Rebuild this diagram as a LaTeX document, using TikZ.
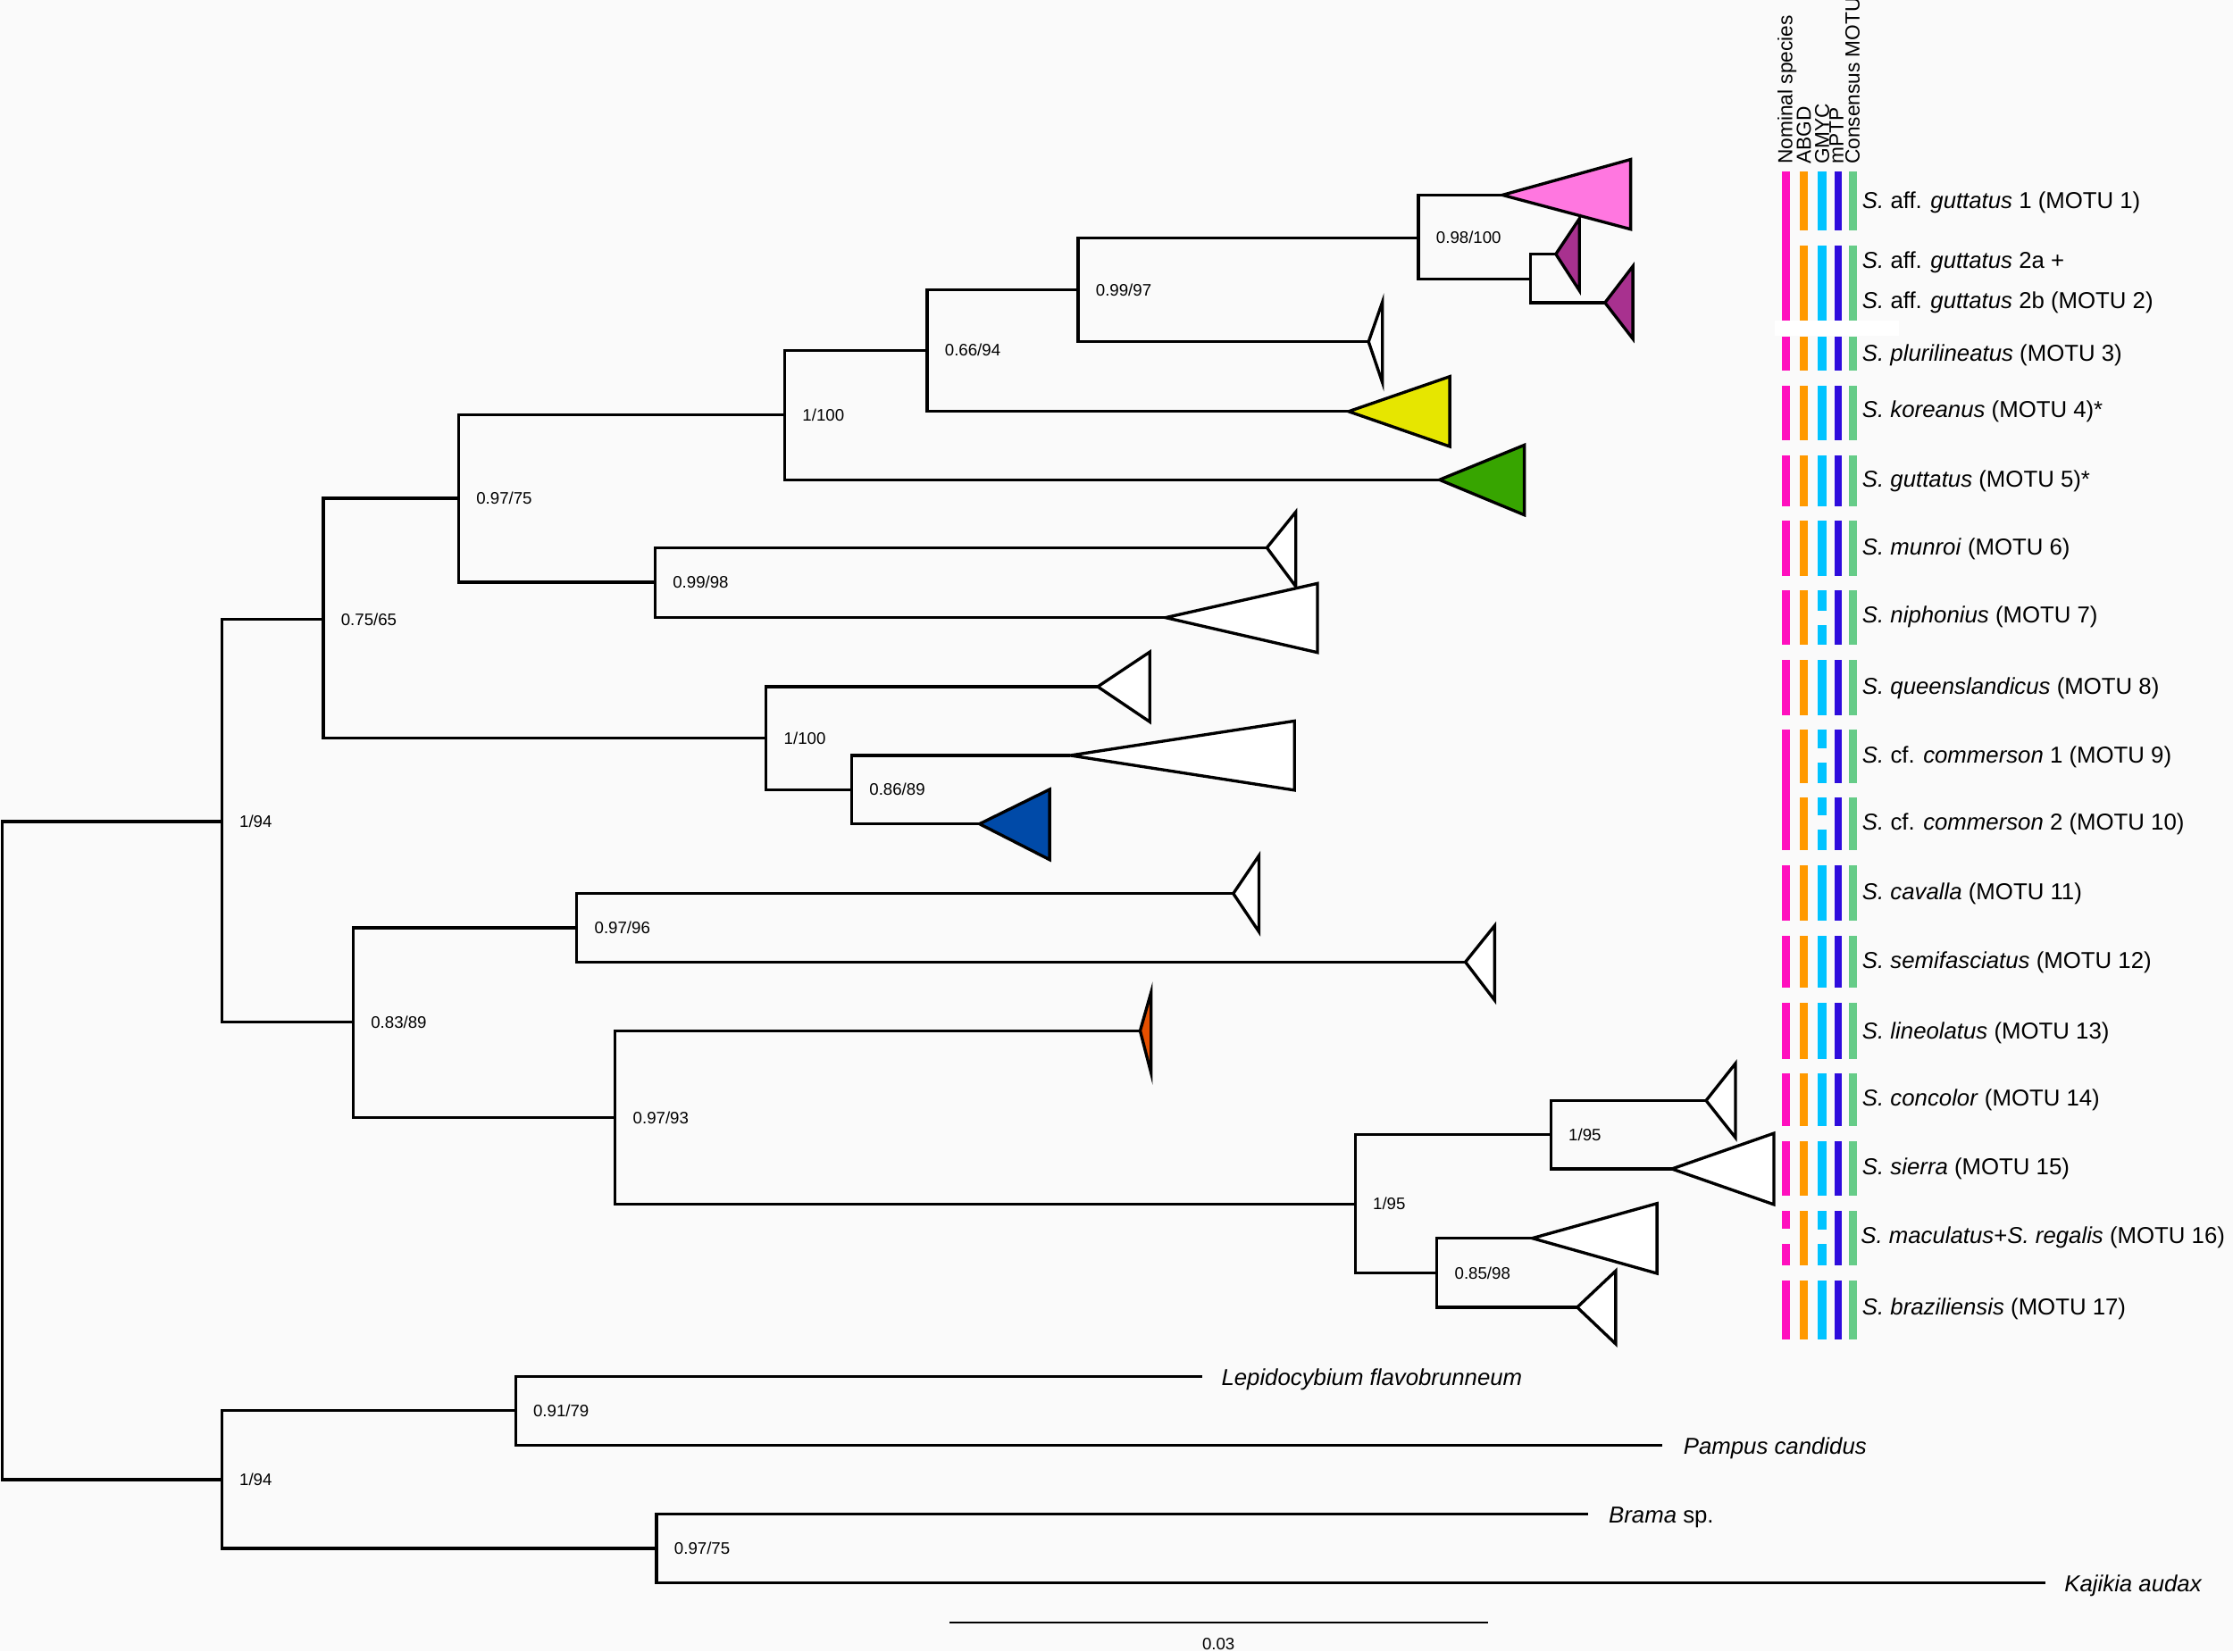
\documentclass[tikz,border=0pt]{standalone}
\usepackage{fontspec}
\setmainfont{Liberation Sans}
\definecolor{bgc}{RGB}{250,250,250}
\definecolor{cpinkbar}{RGB}{255,16,190}
\definecolor{corange}{RGB}{255,153,0}
\definecolor{ccyan}{RGB}{0,195,255}
\definecolor{cblue}{RGB}{46,12,220}
\definecolor{cgreenbar}{RGB}{102,204,136}
\definecolor{tpink}{RGB}{255,119,224}
\definecolor{tpurple}{RGB}{168,49,143}
\definecolor{tyellow}{RGB}{230,230,0}
\definecolor{tgreen}{RGB}{55,165,0}
\definecolor{tblue}{RGB}{0,74,168}
\definecolor{torange}{RGB}{230,80,0}
\newcommand\barsorange[2]{\fill[corange] (1264,#1) rectangle (1269.6,#2);}
\newcommand\barscyan[2]{\fill[ccyan] (1276.4,#1) rectangle (1282.4,#2);}
\newcommand\barsblue[2]{\fill[cblue] (1288,#1) rectangle (1293.5,#2);}
\newcommand\barsgreen[2]{\fill[cgreenbar] (1298.6,#1) rectangle (1304,#2);}
\newcommand\barspink[2]{\fill[cpinkbar] (1251.4,#1) rectangle (1257,#2);}
\begin{document}
\begin{tikzpicture}[x=0.1mm,y=-0.1mm,
  br/.style={line width=0.58pt, line join=miter},
  tri/.style={line width=0.6pt, line join=miter},
  nl/.style={inner sep=0pt, anchor=base west, font=\fontsize{3.33}{4}\selectfont},
  lab/.style={inner sep=0pt, anchor=base west, font=\fontsize{4.6}{5.5}\selectfont},
  hdr/.style={inner sep=0pt, anchor=base west, rotate=90, font=\fontsize{4.05}{4.8}\selectfont}]
\useasboundingbox (0,0) rectangle (1568,1160);
\fill[bgc] (0,0) rectangle (1568,1160);

% internal nodes
\coordinate (root) at (1.7,808.5);
\coordinate (A) at (155.7,577);
\coordinate (O) at (155.7,1039.3);
\coordinate (B) at (227,435);
\coordinate (C) at (322,350);
\coordinate (D) at (551,291.5);
\coordinate (E) at (651,246);
\coordinate (F) at (757,203.5);
\coordinate (F2) at (996,167);
\coordinate (F3) at (1074.5,196);
\coordinate (G) at (460,409);
\coordinate (H) at (538,518.4);
\coordinate (H2) at (598,554.6);
\coordinate (K) at (248,718);
\coordinate (K1) at (405,651.7);
\coordinate (K2) at (432,785);
\coordinate (K3) at (951.6,845.6);
\coordinate (K4) at (1089,797);
\coordinate (K5) at (1009,894);
\coordinate (O1) at (362,990.8);
\coordinate (O2) at (461,1087.6);
% tips (clade apices)
\coordinate (t1) at (1055,137);
\coordinate (t2) at (1092.5,178.5);
\coordinate (t3) at (1127,212.6);
\coordinate (t4) at (961,240);
\coordinate (t5) at (947,289);
\coordinate (t6) at (1010.8,337);
\coordinate (t7) at (889.6,384.7);
\coordinate (t8) at (818.5,433.8);
\coordinate (t9) at (770.8,482.3);
\coordinate (t10) at (751.6,530.6);
\coordinate (t11) at (687.8,578.7);
\coordinate (t12) at (866,627.6);
\coordinate (t13) at (1029,675.7);
\coordinate (t14) at (800.6,724);
\coordinate (t15) at (1198,773);
\coordinate (t16) at (1174,821);
\coordinate (t17) at (1076,869.7);
\coordinate (t18) at (1107.5,918.2);
\coordinate (o1) at (844,966.6);
\coordinate (o2) at (1167.5,1015);
\coordinate (o3) at (1115,1063.5);
\coordinate (o4) at (1436,1111.8);

% branches
\foreach \p/\c in {root/A,root/O,A/B,A/K,B/C,B/H,C/D,C/G,D/E,D/t6,E/F,E/t5,F/F2,F/t4,
  F2/t1,F2/F3,F3/t2,F3/t3,G/t7,G/t8,H/t9,H/H2,H2/t10,H2/t11,K/K1,K/K2,K1/t12,K1/t13,
  K2/t14,K2/K3,K3/K4,K3/K5,K4/t15,K4/t16,K5/t17,K5/t18,O/O1,O/O2,O1/o1,O1/o2,O2/o3,O2/o4}
  \draw[br] (\p) |- (\c);

% collapsed clades
\foreach \t/\bx/\yt/\yb/\col in {t1/1145/112/161/tpink, t2/1109/153.7/204/tpurple,
  t3/1146.6/187/238/tpurple, t4/970.7/212.2/268.6/white, t5/1018/264.5/313.6/tyellow,
  t6/1070.4/312.6/361.7/tgreen, t7/909.9/359.6/411.9/white, t8/925.1/409.8/458.3/white,
  t9/807.4/457.9/507/white, t10/909/506.4/555/white, t11/737/554.5/603.8/tblue,
  t12/884/601/654.4/white, t13/1049.5/650.2/702.5/white, t14/808.3/697/753.7/torange,
  t15/1218.6/747/799/white, t16/1245.6/796/846/white, t17/1163.5/845.3/894.4/white,
  t18/1134.5/892.7/943.9/white}
  \draw[tri, fill=\col] (\t) -- (\bx,\yt) -- (\bx,\yb) -- cycle;

% support values
\foreach \n/\s in {A/1\slash 94, B/0.75\slash 65, C/0.97\slash 75, D/1\slash 100,
  E/0.66\slash 94, F/0.99\slash 97, F2/0.98\slash 100, G/0.99\slash 98, H/1\slash 100,
  H2/0.86\slash 89, K/0.83\slash 89, K1/0.97\slash 96, K2/0.97\slash 93, K3/1\slash 95,
  K4/1\slash 95, K5/0.85\slash 98, O/1\slash 94, O1/0.91\slash 79, O2/0.97\slash 75}
  \node[nl] (l\n) at ([shift={(11.8,4.2)}]\n) {\s};

% outgroup labels
\node[lab] (lo1) at ([shift={(13,6.2)}]o1) {\textit{Lepidocybium flavobrunneum}};
\node[lab] (lo2) at ([shift={(14,6.2)}]o2) {\textit{Pampus candidus}};
\node[lab] (lo3) at ([shift={(14,6.2)}]o3) {\textit{Brama} sp.};
\node[lab] (lo4) at ([shift={(13,6.2)}]o4) {\textit{Kajikia audax}};

% scale bar
\coordinate (sb1) at (667,1139.6);
\coordinate (sb2) at (1045,1139.6);
\draw[line width=0.3pt] (sb1) -- (sb2);
\node[inner sep=0pt, font=\fontsize{3.33}{4}\selectfont] (sbl) at (855.6,1155) {0.03};

% delimitation bars
\barspink{120.6}{225.2}
\barspink{236.2}{260.5}
\foreach \a/\b in {271/309,319.6/355.5,365.8/404.3,414.8/452.9,463.2/502.2,512.3/597,
  607.5/646.6,657.2/693.7,704.3/744.1,754.2/791.2,801.7/839.7,850.5/863.3,874/888.6,899.1/940.8}
  {\barspink{\a}{\b}}
\foreach \a/\b in {120.6/162,172.5/225.2,236.2/260.5,271/309,319.6/355.5,365.8/404.3,
  414.8/452.9,463.2/502.2,512.3/549.9,560/597,607.5/646.6,657.2/693.7,704.3/744.1,
  754.2/791.2,801.7/839.7,850.5/888.6,899.1/940.8}
  {\barsorange{\a}{\b}\barsblue{\a}{\b}\barsgreen{\a}{\b}}
\foreach \a/\b in {120.6/162,172.5/225.2,236.2/260.5,271/309,319.6/355.5,365.8/404.3,
  414.8/428.9,439/452.9,463.2/502.2,512.3/525.3,535.4/549.9,560/572.8,582.9/597,
  607.5/646.6,657.2/693.7,704.3/744.1,754.2/791.2,801.7/839.7,850.5/863.9,874/888.6,899.1/940.8}
  {\barscyan{\a}{\b}}
\fill[white] (1246,225.2) rectangle (1333.5,235.6);

% column headers
\node[hdr] (h1) at (1258.5,116) {Nominal species};
\node[hdr] (h2) at (1271.5,116) {ABGD};
\node[hdr] (h3) at (1284.4,116) {GMYC};
\node[hdr] (h4) at (1294.5,116) {mPTP};
\node[hdr] (h5) at (1305.8,116) {Consensus MOTU};

% MOTU labels
\node[lab] (m1) at (1307,146.3) {\textit{S.} aff. \textit{guttatus} 1 (MOTU 1)};
\node[lab] (m2a) at (1307,188.2) {\textit{S.} aff. \textit{guttatus} 2a +};
\node[lab] (m2b) at (1307,217) {\textit{S.} aff. \textit{guttatus} 2b (MOTU 2)};
\node[lab] (m3) at (1307,253.6) {\textit{S. plurilineatus} (MOTU 3)};
\node[lab] (m4) at (1307,293.5) {\textit{S. koreanus} (MOTU 4)*};
\node[lab] (m5) at (1307,342.3) {\textit{S. guttatus} (MOTU 5)*};
\node[lab] (m6) at (1307,389.7) {\textit{S. munroi} (MOTU 6)};
\node[lab] (m7) at (1307,437.5) {\textit{S. niphonius} (MOTU 7)};
\node[lab] (m8) at (1307,487.9) {\textit{S. queenslandicus} (MOTU 8)};
\node[lab] (m9) at (1307,536) {\textit{S.} cf. \textit{commerson} 1 (MOTU 9)};
\node[lab] (m10) at (1307,583) {\textit{S.} cf. \textit{commerson} 2 (MOTU 10)};
\node[lab] (m11) at (1307,632.1) {\textit{S. cavalla} (MOTU 11)};
\node[lab] (m12) at (1307,680.3) {\textit{S. semifasciatus} (MOTU 12)};
\node[lab] (m13) at (1307,729.6) {\textit{S. lineolatus} (MOTU 13)};
\node[lab] (m14) at (1307,777) {\textit{S. concolor} (MOTU 14)};
\node[lab] (m15) at (1307,824.8) {\textit{S. sierra} (MOTU 15)};
\node[lab] (m16) at (1306,873.6) {\textit{S. maculatus}+\textit{S. regalis} (MOTU 16)};
\node[lab] (m17) at (1307,923.3) {\textit{S. braziliensis} (MOTU 17)};
\end{tikzpicture}
\end{document}
